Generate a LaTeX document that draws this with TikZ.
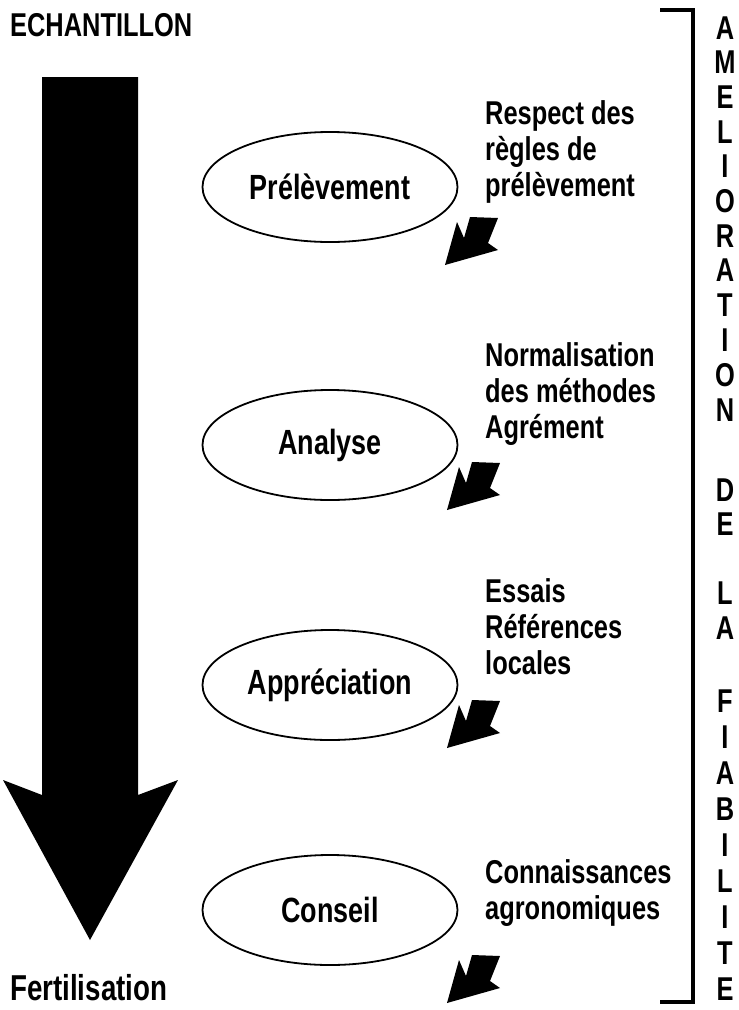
\documentclass[tikz,border=0pt]{standalone}
\usepackage{fontspec}
\setmainfont{Liberation Sans}[FakeStretch=0.77]
\usetikzlibrary{shapes.geometric}

\tikzset{
  etape/.style={draw,ellipse,line width=1.8pt,minimum width=255pt,minimum height=110pt,inner sep=0pt,font=\bfseries\fontsize{35}{40}\selectfont},
  moyen/.style={anchor=base west,align=left,inner sep=0pt,font=\bfseries\fontsize{33}{36}\selectfont},
  titre/.style={anchor=west,inner sep=0pt,font=\bfseries\fontsize{33}{36}\selectfont},
  lettre/.style={inner sep=0pt,font=\bfseries\fontsize{33}{36}\selectfont},
  pics/fleche/.style={code={\fill (0,0) -- (12,-43) -- (19,-27) -- (25,-48) -- (53,-47) -- (43,-22) -- (53,-15) -- cycle;}}
}

\begin{document}
\begin{tikzpicture}[x=1pt,y=-1pt]
\useasboundingbox (0,0) rectangle (739,1010);

\node [titre] at (10,25) (echantillon) {ECHANTILLON};
\node [titre,font=\bfseries\fontsize{36}{40}\selectfont] at (10,988) (fertilisation) {Fertilisation};

\fill (42,77) -- (138,77) -- (138,795) -- (178,780) -- (90,940) -- (3,780) -- (42,795) -- cycle;

\node [etape] at (330,187) (prel) {Prélèvement};
\node [etape] at (330,445) (anal) {Analyse};
\node [etape] at (330,685) (appr) {Appréciation};
\node [etape] at (330,910) (cons) {Conseil};

\node [moyen] at (485,196) (mprel) {Respect des\\règles de\\prélèvement};
\node [moyen] at (485,438) (manal) {Normalisation\\des méthodes\\Agrément};
\node [moyen] at (485,674) (mappr) {Essais\\Références\\locales};
\node [moyen] at (485,919) (mcons) {Connaissances\\agronomiques};

\pic at (445,265) {fleche};
\pic at (447,510) {fleche};
\pic at (447,748) {fleche};
\pic at (447,1003) {fleche};

\coordinate (b0) at (660,10);
\coordinate (b1) at (693,10);
\coordinate (b2) at (693,1002);
\coordinate (b3) at (660,1002);
\draw [line width=3.5pt] (b0) -- (b1) -- (b2) -- (b3);

\node [lettre] at (725,28) (l1) {A};
\node [lettre] at (725,62) (l2) {M};
\node [lettre] at (725,97) (l3) {E};
\node [lettre] at (725,132) (l4) {L};
\node [lettre] at (725,166) (l5) {I};
\node [lettre] at (725,201) (l6) {O};
\node [lettre] at (725,236) (l7) {R};
\node [lettre] at (725,270) (l8) {A};
\node [lettre] at (725,305) (l9) {T};
\node [lettre] at (725,340) (l10) {I};
\node [lettre] at (725,375) (l11) {O};
\node [lettre] at (725,410) (l12) {N};
\node [lettre] at (725,490) (l13) {D};
\node [lettre] at (725,524) (l14) {E};
\node [lettre] at (725,593) (l15) {L};
\node [lettre] at (725,628) (l16) {A};
\node [lettre] at (725,701) (l17) {F};
\node [lettre] at (725,737) (l18) {I};
\node [lettre] at (725,773) (l19) {A};
\node [lettre] at (725,809) (l20) {B};
\node [lettre] at (725,845) (l21) {I};
\node [lettre] at (725,881) (l22) {L};
\node [lettre] at (725,917) (l23) {I};
\node [lettre] at (725,953) (l24) {T};
\node [lettre] at (725,989) (l25) {E};

\end{tikzpicture}
\end{document}
